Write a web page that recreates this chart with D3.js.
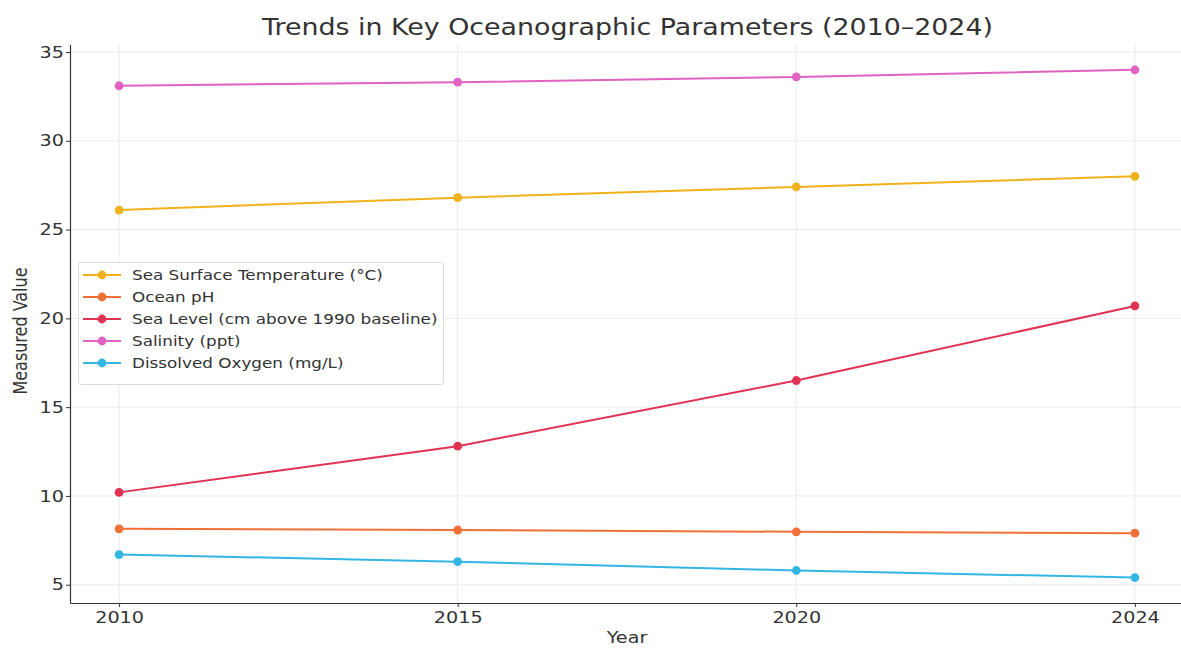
<!DOCTYPE html>
<html>
<head>
<meta charset="utf-8">
<script src="https://cdn.jsdelivr.net/npm/d3@7"></script>
<style>
body{margin:0;background:#fff;}
svg{display:block;font-family:"DejaVu Sans",sans-serif;}
</style>
</head>
<body>
<svg id="chart" width="1181" height="648"></svg>
<script>
const years = ["2010", "2015", "2020", "2024"];
const seriesNames = ["Sea Surface Temperature (°C)", "Ocean pH", "Sea Level (cm above 1990 baseline)", "Salinity (ppt)", "Dissolved Oxygen (mg/L)"];
const sst = [26.1, 26.8, 27.4, 28.0];
const ph = [8.15, 8.08, 7.98, 7.9];
const seaLevel = [10.2, 12.8, 16.5, 20.7];
const salinity = [33.1, 33.3, 33.6, 34.0];
const oxygen = [6.7, 6.3, 5.8, 5.4];
const colors = ["#f0b21c", "#f07038", "#e23254", "#e062c2", "#34b6e2"];
const yTicks = [5, 10, 15, 20, 25, 30, 35];

const seriesValues = [sst, ph, seaLevel, salinity, oxygen];
const svg = d3.select("#chart");
const mLeft = 70, mRight = 1184, mTop = 44.4, mBottom = 603;
const SX = 1.2; // horizontal stretch of the reference text

const x = d3.scalePoint().domain(years).range([mLeft, mRight]).padding(0.145);
const y = d3.scaleLinear().domain([3.97, 35.43]).range([mBottom, mTop]);

// grid
svg.append("g").selectAll("line").data(yTicks).join("line")
  .attr("x1", mLeft).attr("x2", mRight)
  .attr("y1", d => y(d)).attr("y2", d => y(d))
  .attr("stroke", "#ebebeb").attr("stroke-width", 1);
svg.append("g").selectAll("line").data(years).join("line")
  .attr("y1", mTop).attr("y2", mBottom)
  .attr("x1", d => x(d)).attr("x2", d => x(d))
  .attr("stroke", "#ebebeb").attr("stroke-width", 1);

// axes
const xAxis = svg.append("g").attr("transform", `translate(0,${mBottom})`)
  .call(d3.axisBottom(x).tickSize(4).tickSizeOuter(0).tickPadding(5));
const yAxis = svg.append("g").attr("transform", `translate(${mLeft},0)`)
  .call(d3.axisLeft(y).tickValues(yTicks).tickSize(4).tickSizeOuter(0).tickPadding(4));
[xAxis, yAxis].forEach(a => {
  a.select(".domain").attr("stroke", "#333").attr("stroke-width", 1.2);
  a.selectAll(".tick line").attr("stroke", "#333");
  a.selectAll(".tick text").attr("fill", "#333").style("font-size", "16px")
    .style("font-family", "DejaVu Sans");
});
xAxis.selectAll(".tick text").attr("transform", `scale(${SX},1)`);
yAxis.selectAll(".tick text").attr("transform", `scale(${SX},1)`).attr("x", -6 / SX);

// lines
const line = d3.line().x((d, i) => x(years[i])).y(d => y(d));
seriesValues.forEach((vals, s) => {
  svg.append("path").datum(vals).attr("d", line)
    .attr("fill", "none").attr("stroke", colors[s]).attr("stroke-width", 2);
  svg.append("g").selectAll("circle").data(vals).join("circle")
    .attr("cx", (d, i) => x(years[i])).attr("cy", d => y(d)).attr("r", 4.4)
    .attr("fill", colors[s]);
});

// title and labels
svg.append("text").attr("x", 627.5).attr("y", 34.5).attr("text-anchor", "middle")
  .attr("textLength", 731).attr("lengthAdjust", "spacingAndGlyphs")
  .attr("fill", "#333").style("font-size", "23px").text("Trends in Key Oceanographic Parameters (2010–2024)");
svg.append("text").attr("transform", `translate(627,643) scale(${SX},1)`).attr("text-anchor", "middle")
  .attr("fill", "#333").style("font-size", "16px").text("Year");
svg.append("text").attr("transform", `translate(27,331) scale(${SX},1) rotate(-90)`).attr("text-anchor", "middle")
  .attr("fill", "#333").style("font-size", "16px").text("Measured Value");

// legend
const lg = svg.append("g");
lg.append("rect").attr("x", 78.5).attr("y", 262.5).attr("width", 365).attr("height", 122)
  .attr("fill", "#fff").attr("fill-opacity", 0.85).attr("stroke", "#dcdcdc").attr("rx", 2);
seriesNames.forEach((name, i) => {
  const yy = 275 + i * 22;
  lg.append("line").attr("x1", 83).attr("x2", 121).attr("y1", yy).attr("y2", yy)
    .attr("stroke", colors[i]).attr("stroke-width", 2);
  lg.append("circle").attr("cx", 102).attr("cy", yy).attr("r", 4.4).attr("fill", colors[i]);
  lg.append("text").attr("transform", `translate(132,${yy + 5}) scale(${SX},1)`).attr("fill", "#333")
    .style("font-size", "14px").text(name);
});
</script>
</body>
</html>
